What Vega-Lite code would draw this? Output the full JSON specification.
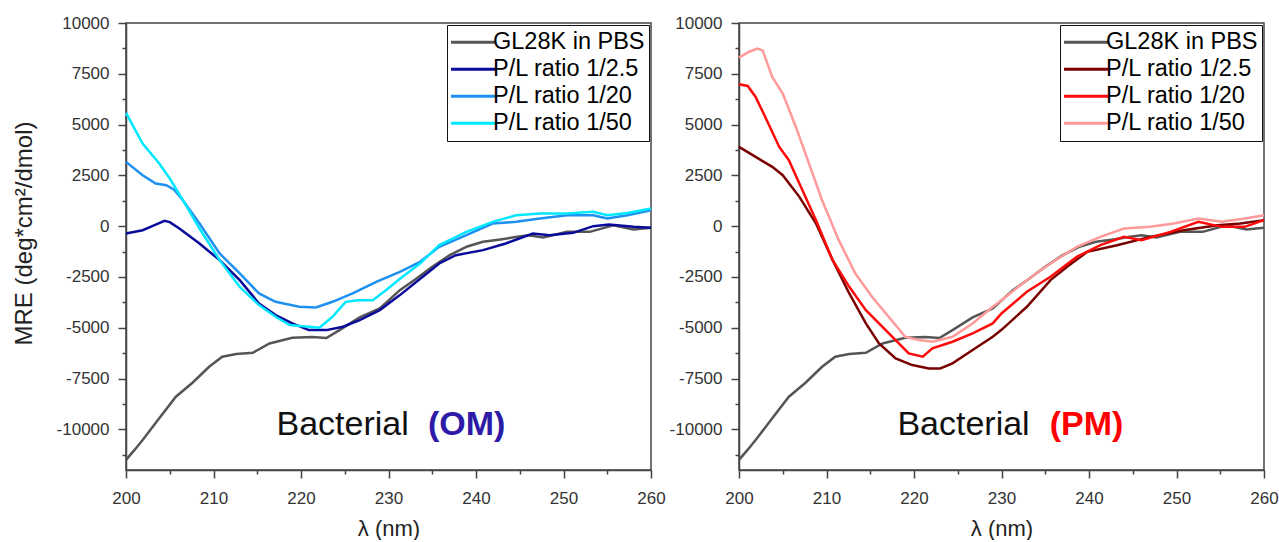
{
  "$schema": "https://vega.github.io/schema/vega-lite/v6.json",
  "padding": {"left": 11, "top": 13, "right": 0, "bottom": 0},
  "background": "white",
  "config": {
    "font": "Liberation Sans",
    "view": {"stroke": "#444", "strokeWidth": 1.5},
    "axis": {
      "grid": false,
      "domainColor": "#444",
      "domainWidth": 1.5,
      "tickColor": "#444",
      "tickWidth": 1.5,
      "labelFont": "Liberation Sans",
      "labelFontSize": 17,
      "labelColor": "#333",
      "labelFlush": false,
      "titleFont": "Liberation Sans",
      "titleFontWeight": "normal",
      "titleColor": "#222",
      "labelOverlap": false
    },
    "legend": {
      "title": null,
      "orient": "top-right",
      "offset": 2,
      "padding": 4,
      "strokeColor": "#111",
      "symbolType": "stroke",
      "symbolSize": 2304,
      "symbolStrokeWidth": 3,
      "symbolOffset": -5,
      "labelFont": "Liberation Sans",
      "labelFontSize": 23.5,
      "labelColor": "#000",
      "labelOffset": -4,
      "clipHeight": 26.7,
      "rowPadding": 0,
      "labelLimit": 400
    }
  },
  "datasets": {
    "om": [
      {"s": "GL28K in PBS", "x": 200, "v": -11500},
      {"s": "GL28K in PBS", "x": 201, "v": -11000},
      {"s": "GL28K in PBS", "x": 201.9, "v": -10525},
      {"s": "GL28K in PBS", "x": 203.8, "v": -9458},
      {"s": "GL28K in PBS", "x": 205.7, "v": -8394},
      {"s": "GL28K in PBS", "x": 207.6, "v": -7705},
      {"s": "GL28K in PBS", "x": 209.5, "v": -6918},
      {"s": "GL28K in PBS", "x": 211, "v": -6426},
      {"s": "GL28K in PBS", "x": 212.6, "v": -6295},
      {"s": "GL28K in PBS", "x": 214.5, "v": -6229},
      {"s": "GL28K in PBS", "x": 216.4, "v": -5771},
      {"s": "GL28K in PBS", "x": 219, "v": -5492},
      {"s": "GL28K in PBS", "x": 221.3, "v": -5459},
      {"s": "GL28K in PBS", "x": 222.9, "v": -5508},
      {"s": "GL28K in PBS", "x": 224.4, "v": -5115},
      {"s": "GL28K in PBS", "x": 226.7, "v": -4491},
      {"s": "GL28K in PBS", "x": 229, "v": -4049},
      {"s": "GL28K in PBS", "x": 231.3, "v": -3148},
      {"s": "GL28K in PBS", "x": 233.2, "v": -2574},
      {"s": "GL28K in PBS", "x": 235, "v": -2000},
      {"s": "GL28K in PBS", "x": 237, "v": -1426},
      {"s": "GL28K in PBS", "x": 239, "v": -1000},
      {"s": "GL28K in PBS", "x": 240.8, "v": -770},
      {"s": "GL28K in PBS", "x": 242.8, "v": -650},
      {"s": "GL28K in PBS", "x": 244.7, "v": -525},
      {"s": "GL28K in PBS", "x": 246, "v": -450},
      {"s": "GL28K in PBS", "x": 247.7, "v": -557},
      {"s": "GL28K in PBS", "x": 250.4, "v": -279},
      {"s": "GL28K in PBS", "x": 253, "v": -279},
      {"s": "GL28K in PBS", "x": 255.7, "v": 49},
      {"s": "GL28K in PBS", "x": 258, "v": -164},
      {"s": "GL28K in PBS", "x": 260, "v": -82},
      {"s": "P/L ratio 1/2.5", "x": 200, "v": -361},
      {"s": "P/L ratio 1/2.5", "x": 201.9, "v": -197},
      {"s": "P/L ratio 1/2.5", "x": 203, "v": 0},
      {"s": "P/L ratio 1/2.5", "x": 204.4, "v": 262},
      {"s": "P/L ratio 1/2.5", "x": 205, "v": 200},
      {"s": "P/L ratio 1/2.5", "x": 206.1, "v": -115},
      {"s": "P/L ratio 1/2.5", "x": 208.4, "v": -852},
      {"s": "P/L ratio 1/2.5", "x": 210.7, "v": -1672},
      {"s": "P/L ratio 1/2.5", "x": 213, "v": -2656},
      {"s": "P/L ratio 1/2.5", "x": 215.2, "v": -3803},
      {"s": "P/L ratio 1/2.5", "x": 217.1, "v": -4377},
      {"s": "P/L ratio 1/2.5", "x": 219, "v": -4787},
      {"s": "P/L ratio 1/2.5", "x": 220.9, "v": -5115},
      {"s": "P/L ratio 1/2.5", "x": 222.9, "v": -5115},
      {"s": "P/L ratio 1/2.5", "x": 224.8, "v": -4951},
      {"s": "P/L ratio 1/2.5", "x": 226.7, "v": -4623},
      {"s": "P/L ratio 1/2.5", "x": 229, "v": -4131},
      {"s": "P/L ratio 1/2.5", "x": 231.3, "v": -3393},
      {"s": "P/L ratio 1/2.5", "x": 233.2, "v": -2738},
      {"s": "P/L ratio 1/2.5", "x": 235.8, "v": -1836},
      {"s": "P/L ratio 1/2.5", "x": 237.7, "v": -1426},
      {"s": "P/L ratio 1/2.5", "x": 240.8, "v": -1180},
      {"s": "P/L ratio 1/2.5", "x": 243.4, "v": -852},
      {"s": "P/L ratio 1/2.5", "x": 246.5, "v": -361},
      {"s": "P/L ratio 1/2.5", "x": 248.4, "v": -443},
      {"s": "P/L ratio 1/2.5", "x": 251.1, "v": -328},
      {"s": "P/L ratio 1/2.5", "x": 253.4, "v": 0},
      {"s": "P/L ratio 1/2.5", "x": 255.2, "v": 82},
      {"s": "P/L ratio 1/2.5", "x": 258, "v": -33},
      {"s": "P/L ratio 1/2.5", "x": 260, "v": -82},
      {"s": "P/L ratio 1/20", "x": 200, "v": 3164},
      {"s": "P/L ratio 1/20", "x": 201.9, "v": 2508},
      {"s": "P/L ratio 1/20", "x": 203.4, "v": 2100},
      {"s": "P/L ratio 1/20", "x": 204.6, "v": 2016},
      {"s": "P/L ratio 1/20", "x": 205.5, "v": 1800},
      {"s": "P/L ratio 1/20", "x": 206.5, "v": 1279},
      {"s": "P/L ratio 1/20", "x": 208.4, "v": 133},
      {"s": "P/L ratio 1/20", "x": 210.7, "v": -1344},
      {"s": "P/L ratio 1/20", "x": 213, "v": -2328},
      {"s": "P/L ratio 1/20", "x": 215.2, "v": -3312},
      {"s": "P/L ratio 1/20", "x": 217.1, "v": -3722},
      {"s": "P/L ratio 1/20", "x": 219.8, "v": -3967},
      {"s": "P/L ratio 1/20", "x": 221.7, "v": -4000},
      {"s": "P/L ratio 1/20", "x": 223.6, "v": -3722},
      {"s": "P/L ratio 1/20", "x": 225.9, "v": -3312},
      {"s": "P/L ratio 1/20", "x": 228.6, "v": -2738},
      {"s": "P/L ratio 1/20", "x": 231.3, "v": -2246},
      {"s": "P/L ratio 1/20", "x": 233.6, "v": -1754},
      {"s": "P/L ratio 1/20", "x": 235.8, "v": -1016},
      {"s": "P/L ratio 1/20", "x": 238.9, "v": -443},
      {"s": "P/L ratio 1/20", "x": 241.9, "v": 131},
      {"s": "P/L ratio 1/20", "x": 244.6, "v": 213},
      {"s": "P/L ratio 1/20", "x": 247.3, "v": 377},
      {"s": "P/L ratio 1/20", "x": 250.4, "v": 541},
      {"s": "P/L ratio 1/20", "x": 253.4, "v": 541},
      {"s": "P/L ratio 1/20", "x": 255, "v": 377},
      {"s": "P/L ratio 1/20", "x": 257.3, "v": 541},
      {"s": "P/L ratio 1/20", "x": 260, "v": 787},
      {"s": "P/L ratio 1/50", "x": 200, "v": 5574},
      {"s": "P/L ratio 1/50", "x": 201.9, "v": 4066},
      {"s": "P/L ratio 1/50", "x": 203.8, "v": 3082},
      {"s": "P/L ratio 1/50", "x": 205, "v": 2344},
      {"s": "P/L ratio 1/50", "x": 206.5, "v": 1279},
      {"s": "P/L ratio 1/50", "x": 208.4, "v": -115},
      {"s": "P/L ratio 1/50", "x": 210.7, "v": -1672},
      {"s": "P/L ratio 1/50", "x": 213, "v": -2984},
      {"s": "P/L ratio 1/50", "x": 215.2, "v": -3885},
      {"s": "P/L ratio 1/50", "x": 217.1, "v": -4459},
      {"s": "P/L ratio 1/50", "x": 218.7, "v": -4869},
      {"s": "P/L ratio 1/50", "x": 220.9, "v": -4951},
      {"s": "P/L ratio 1/50", "x": 222.1, "v": -5000},
      {"s": "P/L ratio 1/50", "x": 223.6, "v": -4459},
      {"s": "P/L ratio 1/50", "x": 225.1, "v": -3722},
      {"s": "P/L ratio 1/50", "x": 226.5, "v": -3640},
      {"s": "P/L ratio 1/50", "x": 228.2, "v": -3640},
      {"s": "P/L ratio 1/50", "x": 229.7, "v": -3148},
      {"s": "P/L ratio 1/50", "x": 231.6, "v": -2492},
      {"s": "P/L ratio 1/50", "x": 233.6, "v": -1836},
      {"s": "P/L ratio 1/50", "x": 235.8, "v": -934},
      {"s": "P/L ratio 1/50", "x": 238.9, "v": -279},
      {"s": "P/L ratio 1/50", "x": 241.9, "v": 213},
      {"s": "P/L ratio 1/50", "x": 244.6, "v": 541},
      {"s": "P/L ratio 1/50", "x": 247.3, "v": 623},
      {"s": "P/L ratio 1/50", "x": 250.4, "v": 623},
      {"s": "P/L ratio 1/50", "x": 253.4, "v": 705},
      {"s": "P/L ratio 1/50", "x": 255, "v": 541},
      {"s": "P/L ratio 1/50", "x": 257.3, "v": 650},
      {"s": "P/L ratio 1/50", "x": 260, "v": 869}
    ],
    "pm": [
      {"s": "GL28K in PBS", "x": 200, "v": -11500},
      {"s": "GL28K in PBS", "x": 201, "v": -11000},
      {"s": "GL28K in PBS", "x": 201.9, "v": -10525},
      {"s": "GL28K in PBS", "x": 203.8, "v": -9458},
      {"s": "GL28K in PBS", "x": 205.7, "v": -8394},
      {"s": "GL28K in PBS", "x": 207.6, "v": -7705},
      {"s": "GL28K in PBS", "x": 209.5, "v": -6918},
      {"s": "GL28K in PBS", "x": 211, "v": -6426},
      {"s": "GL28K in PBS", "x": 212.6, "v": -6295},
      {"s": "GL28K in PBS", "x": 214.5, "v": -6229},
      {"s": "GL28K in PBS", "x": 216.4, "v": -5771},
      {"s": "GL28K in PBS", "x": 219, "v": -5492},
      {"s": "GL28K in PBS", "x": 221.3, "v": -5459},
      {"s": "GL28K in PBS", "x": 222.9, "v": -5508},
      {"s": "GL28K in PBS", "x": 224.4, "v": -5115},
      {"s": "GL28K in PBS", "x": 226.7, "v": -4491},
      {"s": "GL28K in PBS", "x": 229, "v": -4049},
      {"s": "GL28K in PBS", "x": 231.3, "v": -3148},
      {"s": "GL28K in PBS", "x": 233.2, "v": -2574},
      {"s": "GL28K in PBS", "x": 235, "v": -2000},
      {"s": "GL28K in PBS", "x": 237, "v": -1426},
      {"s": "GL28K in PBS", "x": 239, "v": -1000},
      {"s": "GL28K in PBS", "x": 240.8, "v": -770},
      {"s": "GL28K in PBS", "x": 242.8, "v": -650},
      {"s": "GL28K in PBS", "x": 244.7, "v": -525},
      {"s": "GL28K in PBS", "x": 246, "v": -450},
      {"s": "GL28K in PBS", "x": 247.7, "v": -557},
      {"s": "GL28K in PBS", "x": 250.4, "v": -279},
      {"s": "GL28K in PBS", "x": 253, "v": -279},
      {"s": "GL28K in PBS", "x": 255.7, "v": 49},
      {"s": "GL28K in PBS", "x": 258, "v": -164},
      {"s": "GL28K in PBS", "x": 260, "v": -82},
      {"s": "P/L ratio 1/2.5", "x": 200, "v": 3900},
      {"s": "P/L ratio 1/2.5", "x": 201.9, "v": 3410},
      {"s": "P/L ratio 1/2.5", "x": 203.8, "v": 2918},
      {"s": "P/L ratio 1/2.5", "x": 205, "v": 2508},
      {"s": "P/L ratio 1/2.5", "x": 206.9, "v": 1443},
      {"s": "P/L ratio 1/2.5", "x": 208.8, "v": 131},
      {"s": "P/L ratio 1/2.5", "x": 210.7, "v": -1672},
      {"s": "P/L ratio 1/2.5", "x": 212.6, "v": -3312},
      {"s": "P/L ratio 1/2.5", "x": 214.5, "v": -4787},
      {"s": "P/L ratio 1/2.5", "x": 216, "v": -5771},
      {"s": "P/L ratio 1/2.5", "x": 217.9, "v": -6508},
      {"s": "P/L ratio 1/2.5", "x": 219.8, "v": -6836},
      {"s": "P/L ratio 1/2.5", "x": 221.7, "v": -7000},
      {"s": "P/L ratio 1/2.5", "x": 223, "v": -7000},
      {"s": "P/L ratio 1/2.5", "x": 224.4, "v": -6754},
      {"s": "P/L ratio 1/2.5", "x": 226.7, "v": -6098},
      {"s": "P/L ratio 1/2.5", "x": 229, "v": -5443},
      {"s": "P/L ratio 1/2.5", "x": 230, "v": -5100},
      {"s": "P/L ratio 1/2.5", "x": 232.9, "v": -3967},
      {"s": "P/L ratio 1/2.5", "x": 235.6, "v": -2656},
      {"s": "P/L ratio 1/2.5", "x": 237.5, "v": -2000},
      {"s": "P/L ratio 1/2.5", "x": 239.8, "v": -1262},
      {"s": "P/L ratio 1/2.5", "x": 243.2, "v": -934},
      {"s": "P/L ratio 1/2.5", "x": 247, "v": -525},
      {"s": "P/L ratio 1/2.5", "x": 250.8, "v": -197},
      {"s": "P/L ratio 1/2.5", "x": 254.7, "v": 49},
      {"s": "P/L ratio 1/2.5", "x": 257.3, "v": 131},
      {"s": "P/L ratio 1/2.5", "x": 260, "v": 295},
      {"s": "P/L ratio 1/20", "x": 200, "v": 6984},
      {"s": "P/L ratio 1/20", "x": 201, "v": 6900},
      {"s": "P/L ratio 1/20", "x": 201.9, "v": 6360},
      {"s": "P/L ratio 1/20", "x": 203, "v": 5376},
      {"s": "P/L ratio 1/20", "x": 204.6, "v": 3900},
      {"s": "P/L ratio 1/20", "x": 205.7, "v": 3246},
      {"s": "P/L ratio 1/20", "x": 206.9, "v": 2100},
      {"s": "P/L ratio 1/20", "x": 208.8, "v": 295},
      {"s": "P/L ratio 1/20", "x": 210.7, "v": -1672},
      {"s": "P/L ratio 1/20", "x": 212.6, "v": -2984},
      {"s": "P/L ratio 1/20", "x": 214.5, "v": -4131},
      {"s": "P/L ratio 1/20", "x": 216, "v": -4787},
      {"s": "P/L ratio 1/20", "x": 217.9, "v": -5607},
      {"s": "P/L ratio 1/20", "x": 219.4, "v": -6262},
      {"s": "P/L ratio 1/20", "x": 221, "v": -6426},
      {"s": "P/L ratio 1/20", "x": 222.1, "v": -6016},
      {"s": "P/L ratio 1/20", "x": 224.4, "v": -5689},
      {"s": "P/L ratio 1/20", "x": 226.7, "v": -5279},
      {"s": "P/L ratio 1/20", "x": 229, "v": -4787},
      {"s": "P/L ratio 1/20", "x": 230, "v": -4295},
      {"s": "P/L ratio 1/20", "x": 232.9, "v": -3230},
      {"s": "P/L ratio 1/20", "x": 235.6, "v": -2492},
      {"s": "P/L ratio 1/20", "x": 238.6, "v": -1508},
      {"s": "P/L ratio 1/20", "x": 241.3, "v": -934},
      {"s": "P/L ratio 1/20", "x": 244, "v": -525},
      {"s": "P/L ratio 1/20", "x": 246, "v": -689},
      {"s": "P/L ratio 1/20", "x": 249.3, "v": -279},
      {"s": "P/L ratio 1/20", "x": 252.5, "v": 213},
      {"s": "P/L ratio 1/20", "x": 255.2, "v": -33},
      {"s": "P/L ratio 1/20", "x": 257.8, "v": -33},
      {"s": "P/L ratio 1/20", "x": 260, "v": 295},
      {"s": "P/L ratio 1/50", "x": 200, "v": 8295},
      {"s": "P/L ratio 1/50", "x": 201.1, "v": 8574},
      {"s": "P/L ratio 1/50", "x": 202.1, "v": 8738},
      {"s": "P/L ratio 1/50", "x": 202.7, "v": 8650},
      {"s": "P/L ratio 1/50", "x": 203.8, "v": 7344},
      {"s": "P/L ratio 1/50", "x": 205, "v": 6525},
      {"s": "P/L ratio 1/50", "x": 206.5, "v": 4885},
      {"s": "P/L ratio 1/50", "x": 208, "v": 3082},
      {"s": "P/L ratio 1/50", "x": 209.5, "v": 1279},
      {"s": "P/L ratio 1/50", "x": 211.4, "v": -689},
      {"s": "P/L ratio 1/50", "x": 213.3, "v": -2328},
      {"s": "P/L ratio 1/50", "x": 215.2, "v": -3476},
      {"s": "P/L ratio 1/50", "x": 217.1, "v": -4459},
      {"s": "P/L ratio 1/50", "x": 219, "v": -5443},
      {"s": "P/L ratio 1/50", "x": 220.6, "v": -5607},
      {"s": "P/L ratio 1/50", "x": 222.1, "v": -5689},
      {"s": "P/L ratio 1/50", "x": 224.4, "v": -5443},
      {"s": "P/L ratio 1/50", "x": 226.7, "v": -4787},
      {"s": "P/L ratio 1/50", "x": 229, "v": -3967},
      {"s": "P/L ratio 1/50", "x": 230, "v": -3640},
      {"s": "P/L ratio 1/50", "x": 232.9, "v": -2656},
      {"s": "P/L ratio 1/50", "x": 235.6, "v": -1836},
      {"s": "P/L ratio 1/50", "x": 238.6, "v": -1016},
      {"s": "P/L ratio 1/50", "x": 241.3, "v": -525},
      {"s": "P/L ratio 1/50", "x": 244, "v": -115},
      {"s": "P/L ratio 1/50", "x": 247, "v": -33},
      {"s": "P/L ratio 1/50", "x": 249.7, "v": 131},
      {"s": "P/L ratio 1/50", "x": 252.5, "v": 377},
      {"s": "P/L ratio 1/50", "x": 255.2, "v": 213},
      {"s": "P/L ratio 1/50", "x": 257.8, "v": 377},
      {"s": "P/L ratio 1/50", "x": 260, "v": 541}
    ]
  },
  "resolve": {"scale": {"color": "independent"}, "legend": {"color": "independent"}},
  "spacing": 2,
  "hconcat": [
    {
      "width": 525,
      "height": 447,
      "resolve": {"axis": {"y": "independent"}},
      "layer": [
        {
          "data": {"name": "om"},
          "mark": {"type": "line", "strokeWidth": 2.5},
          "encoding": {
            "x": {"field": "x", "type": "quantitative",
              "scale": {"domain": [200, 260], "nice": false, "zero": false},
              "axis": {"title": "λ (nm)", "titleFontSize": 22, "titlePadding": 12, "labelPadding": 12,
                "values": [200, 205, 210, 215, 220, 225, 230, 235, 240, 245, 250, 255, 260],
                "labelExpr": "datum.value % 10 === 0 ? '' + datum.value : ''",
                "tickSize": {"condition": {"test": "datum.value % 10 === 0", "value": 8}, "value": 4}}},
            "y": {"field": "v", "type": "quantitative",
              "scale": {"domain": [-12000, 10000], "nice": false, "zero": false},
              "axis": {"orient": "left", "title": "MRE (deg*cm²/dmol)", "titleFontSize": 24, "titlePadding": 20, "labelPadding": 9, "titleY": 210,
                "values": [-10000, -7500, -5000, -2500, 0, 2500, 5000, 7500, 10000],
                "labelExpr": "toString(datum.value)",
                "tickSize": 8}},
            "color": {"field": "s", "type": "nominal",
              "scale": {"domain": ["GL28K in PBS", "P/L ratio 1/2.5", "P/L ratio 1/20", "P/L ratio 1/50"],
                "range": ["#555555", "#0a0a9a", "#1e90f0", "#00e8ff"]}}
          }
        },
        {
          "data": {"values": [{}]},
          "mark": {"type": "text", "fontSize": 34, "align": "left", "baseline": "alphabetic", "color": "#111", "font": "Liberation Sans"},
          "encoding": {
            "x": {"datum": 217.2, "type": "quantitative"},
            "y": {"datum": -10300, "type": "quantitative",
              "scale": {"domain": [-12000, 10000], "nice": false, "zero": false},
              "axis": {"orient": "left", "title": null, "labels": false, "domain": false, "tickSize": 4,
                "values": [-11250, -8750, -6250, -3750, -1250, 1250, 3750, 6250, 8750]}},
            "text": {"value": "Bacterial"}}
        },
        {
          "data": {"values": [{}]},
          "mark": {"type": "text", "fontSize": 34, "fontWeight": "bold", "align": "left", "baseline": "alphabetic", "color": "#2d1aa6", "font": "Liberation Sans"},
          "encoding": {
            "x": {"datum": 234.5, "type": "quantitative"},
            "y": {"datum": -10300, "type": "quantitative", "axis": null},
            "text": {"value": "(OM)"}}
        }
      ]
    },
    {
      "width": 525,
      "height": 447,
      "resolve": {"axis": {"y": "independent"}},
      "layer": [
        {
          "data": {"name": "pm"},
          "mark": {"type": "line", "strokeWidth": 2.5},
          "encoding": {
            "x": {"field": "x", "type": "quantitative",
              "scale": {"domain": [200, 260], "nice": false, "zero": false},
              "axis": {"title": "λ (nm)", "titleFontSize": 22, "titlePadding": 12, "labelPadding": 12,
                "values": [200, 205, 210, 215, 220, 225, 230, 235, 240, 245, 250, 255, 260],
                "labelExpr": "datum.value % 10 === 0 ? '' + datum.value : ''",
                "tickSize": {"condition": {"test": "datum.value % 10 === 0", "value": 8}, "value": 4}}},
            "y": {"field": "v", "type": "quantitative",
              "scale": {"domain": [-12000, 10000], "nice": false, "zero": false},
              "axis": {"orient": "left", "title": null, "labelPadding": 9,
                "values": [-10000, -7500, -5000, -2500, 0, 2500, 5000, 7500, 10000],
                "labelExpr": "toString(datum.value)",
                "tickSize": 8}},
            "color": {"field": "s", "type": "nominal",
              "scale": {"domain": ["GL28K in PBS", "P/L ratio 1/2.5", "P/L ratio 1/20", "P/L ratio 1/50"],
                "range": ["#555555", "#7a0000", "#ff0a0a", "#ff9a9a"]}}
          }
        },
        {
          "data": {"values": [{}]},
          "mark": {"type": "text", "fontSize": 34, "align": "left", "baseline": "alphabetic", "color": "#111", "font": "Liberation Sans"},
          "encoding": {
            "x": {"datum": 218.1, "type": "quantitative"},
            "y": {"datum": -10300, "type": "quantitative",
              "scale": {"domain": [-12000, 10000], "nice": false, "zero": false},
              "axis": {"orient": "left", "title": null, "labels": false, "domain": false, "tickSize": 4,
                "values": [-11250, -8750, -6250, -3750, -1250, 1250, 3750, 6250, 8750]}},
            "text": {"value": "Bacterial"}}
        },
        {
          "data": {"values": [{}]},
          "mark": {"type": "text", "fontSize": 34, "fontWeight": "bold", "align": "left", "baseline": "alphabetic", "color": "#ff0000", "font": "Liberation Sans"},
          "encoding": {
            "x": {"datum": 235.5, "type": "quantitative"},
            "y": {"datum": -10300, "type": "quantitative", "axis": null},
            "text": {"value": "(PM)"}}
        }
      ]
    }
  ]
}
